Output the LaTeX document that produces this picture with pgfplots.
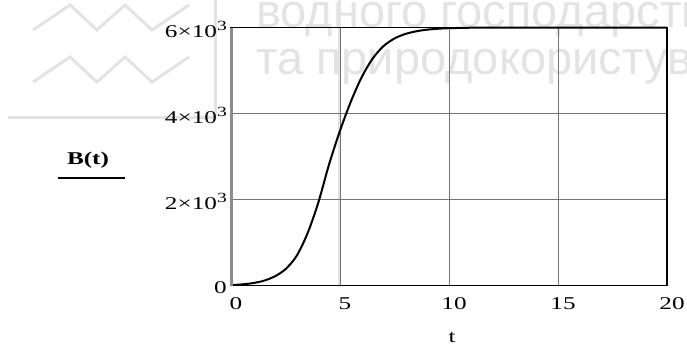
\documentclass[border=0pt]{standalone}
\usepackage{pgfplots}
\pgfplotsset{compat=1.18}
\usepackage{fontspec}
\setmainfont{Liberation Serif}
\newfontfamily\wide[FakeStretch=1.4]{Liberation Serif}
\newfontfamily\wm{Liberation Sans}
\newcommand{\sups}[1]{\raisebox{0.42em}{\fontsize{14}{14}\selectfont #1}}
\begin{document}
\begin{tikzpicture}
\useasboundingbox (0pt,0pt) rectangle (687pt,-350pt);
% faint scan watermark
\begin{scope}[black!11, line width=3pt]
\draw (8pt,-117pt) -- (215pt,-117pt);
\draw (215pt,0pt) -- (215pt,-117pt);
\draw (339pt,0pt) -- (339pt,-287pt);
\draw (33pt,-30pt) -- (70pt,-5pt) -- (97pt,-30pt) -- (125pt,-5pt) -- (152pt,-30pt) -- (189pt,-5pt);
\draw (33pt,-82pt) -- (70pt,-57pt) -- (97pt,-82pt) -- (125pt,-57pt) -- (152pt,-82pt) -- (189pt,-57pt);
\end{scope}
\node[anchor=base west, inner sep=0, text=black!11, font=\wm\fontsize{47}{47}\selectfont] at (256pt,-28pt) {водного господарств};
\node[anchor=base west, inner sep=0, text=black!11, font=\wm\fontsize{47}{47}\selectfont] at (256pt,-75pt) {та природокористув};
\begin{axis}[
  scale only axis,
  width=436pt, height=258pt,
  at={(231pt,-285.5pt)}, anchor=south west,
  xmin=0, xmax=20, ymin=0, ymax=6000,
  xtick={0,5,10,15,20},
  xticklabels={0,5,10,15,20},
  ytick={0,2000,4000,6000},
  yticklabels={0,2×10\sups{3},4×10\sups{3},6×10\sups{3}},
  scaled y ticks=false,
  major tick length=0pt,
  grid=major,
  major grid style={black!55, line width=0.7pt},
  axis line style={black, line width=1.3pt},
  tick label style={font=\wide\fontsize{18}{18}\selectfont, inner sep=1pt},
  xticklabel style={yshift=-11pt, xshift=5pt},
  yticklabel style={yshift=-2pt, xshift=-3pt},
  clip=false,
]
\addplot[black, line width=2pt, smooth] coordinates {
(0,10) (0.5,25) (1,55) (1.5,110) (2,210) (2.5,380) (3,680) (3.5,1200)
(4,1920) (4.5,2820) (5,3600) (5.5,4280) (6,4850) (6.5,5280) (7,5570)
(7.5,5745) (8,5850) (8.5,5912) (9,5950) (9.5,5971) (10,5984) (11,5995)
(12,5999) (13,6000) (16,6000) (20,6000)
};
\draw[black!45, line width=3pt] (axis cs:0,0) -- (axis cs:0,6000);
\end{axis}
\node[font=\wide\bfseries\fontsize{18}{18}\selectfont] at (88pt,-160pt) {B(t)};
\draw[black, line width=1.8pt] (58pt,-178pt) -- (125pt,-178pt);
\node[font=\wide\fontsize{18}{18}\selectfont] at (452pt,-338pt) {t};
\end{tikzpicture}
\end{document}
